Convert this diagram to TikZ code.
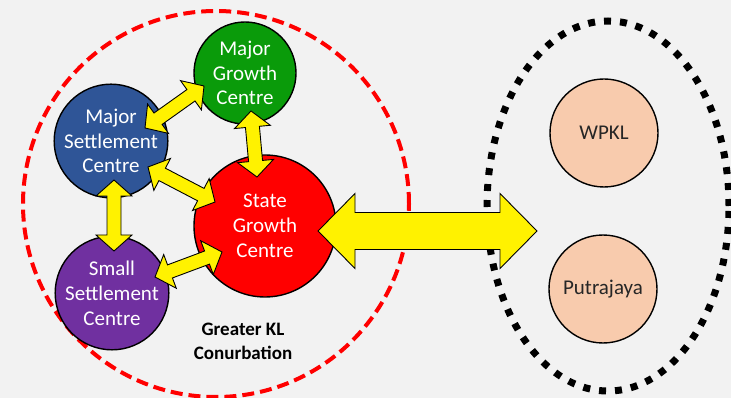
\documentclass[tikz,border=0pt]{standalone}
\usepackage{fontspec}
\setmainfont{Carlito}
\usetikzlibrary{calc,shapes.geometric}

\definecolor{bg}{HTML}{F2F2F2}
\definecolor{growthgreen}{RGB}{10,155,10}
\definecolor{settleblue}{HTML}{2F5597}
\definecolor{settlepurple}{HTML}{7030A0}
\definecolor{peach}{HTML}{F8CBAD}
\definecolor{darktext}{HTML}{262626}

% Filled double-headed arrow between two points:
% #2 start, #3 end, #4 shaft half-width, #5 head half-width, #6 head length
\newcommand\twoway[6][]{%
  \path[flow,#1] let \p1=(#2), \p2=(#3), \n1={atan2(\y2-\y1,\x2-\x1)} in
    (\p1)
    -- ($(\p1)+(\n1:#6)+(\n1+90:#5)$)
    -- ($(\p1)+(\n1:#6)+(\n1+90:#4)$)
    -- ($(\p2)+(\n1+180:#6)+(\n1+90:#4)$)
    -- ($(\p2)+(\n1+180:#6)+(\n1+90:#5)$)
    -- (\p2)
    -- ($(\p2)+(\n1+180:#6)+(\n1-90:#5)$)
    -- ($(\p2)+(\n1+180:#6)+(\n1-90:#4)$)
    -- ($(\p1)+(\n1:#6)+(\n1-90:#4)$)
    -- ($(\p1)+(\n1:#6)+(\n1-90:#5)$)
    -- cycle;}

\tikzset{
  centre/.style={circle, draw=black, line width=1.4pt, inner sep=0pt,
    minimum size=#1, align=center, text=white,
    font=\fontsize{21}{24.8}\selectfont},
  capital/.style={centre=108pt, fill=peach, text=darktext},
  flow/.style={fill=yellow, draw=black, line width=0.9pt, line join=miter},
}

\begin{document}
\begin{tikzpicture}[x=1pt,y=-1pt]
  \fill[bg] (0,0) rectangle (731,398);
  \useasboundingbox (0,0) rectangle (731,398);

  % outer zones
  \node[circle, draw=red, line width=4pt, dash pattern=on 12pt off 6pt,
        minimum size=386pt, inner sep=0pt] (conurb) at (216,204) {};
  \node[ellipse, draw=black, line width=7pt, dash pattern=on 7pt off 9pt,
        minimum width=242pt, minimum height=370pt, inner sep=0pt] (fedterr) at (608,206) {};

  % centres
  \node[centre=102pt, fill=growthgreen] (mgc) at (245,73) {Major\\Growth\\Centre};
  \node[centre=104pt, fill=settleblue] (msc) at (111,141) {Major\\Settlement\\Centre};
  \node[centre=102pt, fill=settlepurple] (ssc) at (112,293) {Small\\Settlement\\Centre};
  \node[centre=142pt, fill=red] (sgc) at (265,226) {State\\Growth\\Centre};

  \node[capital] (wpkl) at (604,133) {WPKL};
  \node[capital] (ptj) at (603,289) {Putrajaya};

  \node[align=center, font=\bfseries\fontsize{19}{24}\selectfont] (label) at (243,341)
    {Greater KL\\Conurbation};

  % links between centres
  \twoway{$(mgc)+(6,38)$}{$(sgc)+(-8,-49)$}{7pt}{18pt}{16pt}
  \twoway{$(msc)+(34,-13)$}{$(mgc)+(-41,13)$}{7pt}{18pt}{16pt}
  \twoway{$(msc)+(37,26)$}{$(sgc)+(-50,-24)$}{7pt}{18pt}{16pt}
  \twoway{$(ssc)+(43,-16)$}{$(sgc)+(-43,26)$}{7pt}{18pt}{16pt}
  \twoway{$(msc)+(3,39)$}{$(ssc)+(2,-42)$}{7pt}{18pt}{16pt}

  % link to the federal territories
  \coordinate (fedin) at ($(fedterr)+(-71,25)$);
  \twoway{$(sgc)+(53,5)$}{fedin}{18.5pt}{37.5pt}{37pt}
\end{tikzpicture}
\end{document}
